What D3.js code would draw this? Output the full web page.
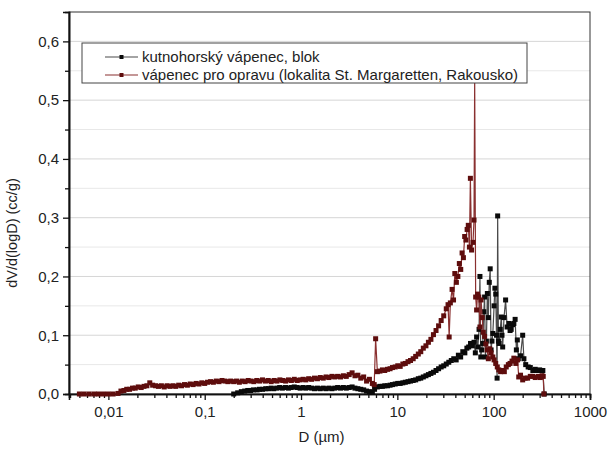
<!DOCTYPE html>
<html>
<head>
<meta charset="utf-8">
<script src="https://cdn.jsdelivr.net/npm/d3@7"></script>
<style>
  body { margin: 0; background: #fff; }
  text { font-family: "Liberation Sans", Arial, sans-serif; fill: #222; }
</style>
</head>
<body>
<div id="chart"></div>
<script>
// series 1: kutnohorsky vapenec, blok (black)
const dBlok = [0.20, 0.22, 0.24, 0.26, 0.28, 0.30, 0.32, 0.35, 0.37, 0.40, 0.43, 0.46, 0.49, 0.52, 0.56, 0.60, 0.64, 0.69, 0.74, 0.79,
  0.85, 0.91, 0.98, 1.05, 1.12, 1.2, 1.29, 1.38, 1.48, 1.58, 1.70, 1.82, 1.95, 2.09, 2.24, 2.40, 2.57, 2.75, 2.95, 3.16,
  3.39, 3.63, 3.89, 4.17, 4.47, 4.79, 5.13, 5.5, 5.8, 6.2, 6.6, 7.0, 7.4, 7.9, 8.4, 8.9, 9.5, 10.1, 10.7, 11.4,
  12.1, 12.9, 13.7, 14.6, 15.5, 16.5, 17.5, 18.6, 19.8, 21.0, 22.3, 23.7, 25.2, 26.8, 28.5, 30.3, 32.2, 34.2, 36.3, 38.5,
  40.8, 43.0, 45.4, 47.8, 50.2, 52.7, 55.0, 57.5, 60.0, 62.5, 64.5, 66.5, 68.5, 70.5, 72.0, 73.5, 75.0, 77.0, 79.0, 80.5,
  82.0, 84.0, 86.0, 88.0, 90.0, 92.0, 94.0, 96.0, 98.0, 101, 103, 105, 107, 108.5, 110, 112, 114, 117, 120, 122,
  124, 128, 133, 138, 144, 148, 152, 157, 162, 167, 172, 176, 180, 190, 200, 206, 215, 228, 240, 255,
  270, 285, 300, 315, 324, 335];
const vBlok = [0.000, 0.002, 0.004, 0.005, 0.006, 0.006, 0.007, 0.007, 0.008, 0.008, 0.009, 0.009, 0.010, 0.009, 0.010, 0.011, 0.010, 0.011, 0.010, 0.011,
  0.012, 0.011, 0.010, 0.011, 0.010, 0.011, 0.010, 0.009, 0.010, 0.009, 0.010, 0.009, 0.010, 0.009, 0.010, 0.011, 0.010, 0.011, 0.010, 0.011,
  0.012, 0.010, 0.009, 0.008, 0.007, 0.005, 0.004, 0.003, 0.008, 0.012, 0.013, 0.013, 0.014, 0.014, 0.015, 0.016, 0.017, 0.018, 0.018, 0.019,
  0.020, 0.021, 0.022, 0.023, 0.024, 0.026, 0.027, 0.029, 0.031, 0.033, 0.035, 0.037, 0.040, 0.043, 0.046, 0.048, 0.051, 0.054, 0.057, 0.060,
  0.058, 0.066, 0.063, 0.072, 0.070, 0.078, 0.080, 0.086, 0.082, 0.088, 0.070, 0.097, 0.080, 0.110, 0.200, 0.063, 0.075, 0.086, 0.140, 0.165,
  0.063, 0.090, 0.171, 0.130, 0.190, 0.213, 0.075, 0.090, 0.103, 0.150, 0.180, 0.170, 0.100, 0.027, 0.303, 0.090, 0.086, 0.110, 0.131, 0.100,
  0.080, 0.130, 0.160, 0.114, 0.120, 0.108, 0.110, 0.118, 0.120, 0.127, 0.075, 0.092, 0.060, 0.065, 0.100, 0.060, 0.050, 0.046, 0.045, 0.040,
  0.042, 0.040, 0.041, 0.040, 0.040, 0.000];

// series 2: vapenec pro opravu (dark red)
const dOprava = [0.0050, 0.0056, 0.0063, 0.0071, 0.0079, 0.0089, 0.0100, 0.0112, 0.0126, 0.0135, 0.0145, 0.0155, 0.0166, 0.0178, 0.019, 0.0204, 0.0219, 0.0234, 0.0251, 0.0269,
  0.0288, 0.0309, 0.0331, 0.0355, 0.038, 0.0407, 0.0437, 0.0468, 0.0501, 0.0537, 0.0575, 0.0617, 0.0661, 0.0708, 0.0759, 0.0813, 0.0871, 0.0933, 0.1, 0.107,
  0.115, 0.123, 0.132, 0.141, 0.151, 0.162, 0.174, 0.186, 0.2, 0.214, 0.229, 0.245, 0.263, 0.282, 0.302, 0.324, 0.347, 0.372, 0.398, 0.427,
  0.457, 0.49, 0.525, 0.562, 0.603, 0.646, 0.692, 0.741, 0.794, 0.851, 0.912, 0.977, 1.05, 1.12, 1.2, 1.29, 1.38, 1.48, 1.58, 1.70,
  1.82, 1.95, 2.09, 2.24, 2.40, 2.57, 2.75, 2.95, 3.16, 3.39, 3.63, 3.89, 4.17, 4.47, 4.79, 5.13, 5.5, 5.75, 5.95, 6.2,
  6.6, 7.0, 7.4, 7.9, 8.4, 8.9, 9.5, 10.1, 10.7, 11.4, 12.1, 12.9, 13.7, 14.6, 15.5, 16.5, 17.5, 18.6, 19.8, 21.0,
  22.3, 23.7, 25.2, 26.8, 28.5, 30.3, 32.2, 33.6, 34.5, 35.5, 37.0, 38.3, 39.5, 41.0, 42.5, 44.0, 45.5, 47.0, 48.5, 50.0,
  51.5, 53.0, 54.5, 56.0, 57.3, 59.0, 61.0, 62.5, 63.5, 65.0, 66.5, 68.0, 70.0, 72.0, 74.0, 76.0, 78.0, 80.5, 83.0, 85.5,
  88.0, 91.0, 94.0, 98.0, 101, 105, 109, 113, 118, 123, 129, 135, 142, 148, 155, 162, 170, 177, 182, 190,
  200, 212, 225, 240, 255, 270, 290, 305, 318, 327, 332];
const vOprava = [0, 0, 0, 0, 0, 0, 0, 0, 0.001, 0.005, 0.006, 0.008, 0.008, 0.010, 0.010, 0.012, 0.011, 0.013, 0.014, 0.019,
  0.015, 0.014, 0.013, 0.014, 0.012, 0.014, 0.013, 0.014, 0.013, 0.015, 0.014, 0.016, 0.015, 0.017, 0.016, 0.018, 0.017, 0.019, 0.018, 0.020,
  0.021, 0.020, 0.022, 0.021, 0.023, 0.022, 0.021, 0.022, 0.021, 0.022, 0.020, 0.022, 0.021, 0.023, 0.022, 0.021, 0.023, 0.022, 0.024, 0.022,
  0.023, 0.021, 0.023, 0.022, 0.024, 0.023, 0.022, 0.024, 0.023, 0.025, 0.023, 0.024, 0.025, 0.024, 0.026, 0.025, 0.027, 0.026, 0.028, 0.027,
  0.029, 0.028, 0.030, 0.029, 0.030, 0.029, 0.031, 0.030, 0.033, 0.036, 0.031, 0.032, 0.027, 0.029, 0.022, 0.025, 0.018, 0.016, 0.094, 0.038,
  0.039, 0.041, 0.040, 0.042, 0.043, 0.045, 0.046, 0.048, 0.047, 0.051, 0.052, 0.055, 0.057, 0.060, 0.064, 0.068, 0.072, 0.078, 0.082, 0.088,
  0.093, 0.101, 0.108, 0.116, 0.125, 0.133, 0.145, 0.152, 0.097, 0.155, 0.178, 0.160, 0.205, 0.190, 0.200, 0.222, 0.212, 0.240, 0.232, 0.268,
  0.262, 0.280, 0.287, 0.250, 0.367, 0.245, 0.258, 0.296, 0.535, 0.165, 0.143, 0.170, 0.165, 0.114, 0.160, 0.130, 0.105, 0.098, 0.085, 0.075,
  0.060, 0.077, 0.070, 0.063, 0.058, 0.052, 0.046, 0.041, 0.038, 0.040, 0.038, 0.046, 0.050, 0.052, 0.056, 0.061, 0.052, 0.058, 0.029, 0.032,
  0.024, 0.027, 0.027, 0.030, 0.030, 0.028, 0.030, 0.028, 0.031, 0.030, 0];

const yTicks = [0, 0.1, 0.2, 0.3, 0.4, 0.5, 0.6];
const xTicks = [0.01, 0.1, 1, 10, 100, 1000];
const seriesNames = ["kutnohorský vápenec, blok", "vápenec pro opravu (lokalita St. Margaretten, Rakousko)"];

const MARGIN = { LEFT: 69, RIGHT: 19, TOP: 12, BOTTOM: 55 };
const WIDTH = 609 - MARGIN.LEFT - MARGIN.RIGHT;
const HEIGHT = 449 - MARGIN.TOP - MARGIN.BOTTOM;

const svg = d3.select("#chart").append("svg")
  .attr("width", 609)
  .attr("height", 449);
const g = svg.append("g")
  .attr("transform", `translate(${MARGIN.LEFT}, ${MARGIN.TOP})`);

// scales
const x = d3.scaleLog().domain([0.0039, 1000]).range([0, WIDTH]);
const y = d3.scaleLinear().domain([0, 0.65]).range([HEIGHT, 0]);

// horizontal grid every 0.05
const gridVals = d3.range(1, 13).map(i => i * 0.05);
g.selectAll(".grid")
  .data(gridVals)
  .enter().append("line")
  .attr("x1", 0).attr("x2", WIDTH)
  .attr("y1", d => y(d)).attr("y2", d => y(d))
  .attr("stroke", (d, i) => i % 2 === 1 ? "#d6d6d6" : "#e8e8e8")
  .attr("stroke-width", 1);

// frame
g.append("rect")
  .attr("width", WIDTH).attr("height", HEIGHT)
  .attr("fill", "none").attr("stroke", "#333").attr("stroke-width", 1);

const fmt = d => String(d).replace(".", ",");

// y axis
g.append("g")
  .call(d3.axisLeft(y).tickValues(yTicks).tickSize(6).tickPadding(4).tickFormat(d => d3.format(".1f")(d).replace(".", ",")));
g.append("g")
  .call(d3.axisLeft(y).tickValues(d3.range(0, 6).map(i => i * 0.1 + 0.05)).tickSize(4).tickFormat(""));

// x axis
const xMinor = [];
[0.001, 0.01, 0.1, 1, 10, 100].forEach(dec => {
  for (let k = 2; k <= 9; k++) {
    const v = dec * k;
    if (v >= 0.0039 && v <= 1000) xMinor.push(v);
  }
});
g.append("g")
  .attr("transform", `translate(0, ${HEIGHT})`)
  .call(d3.axisBottom(x).tickValues(xTicks).tickSize(6).tickPadding(6).tickFormat(fmt));
g.append("g")
  .attr("transform", `translate(0, ${HEIGHT})`)
  .call(d3.axisBottom(x).tickValues(xMinor).tickSize(4).tickFormat(""));

svg.selectAll(".domain").attr("stroke", "#111").attr("stroke-width", 1.6);
svg.selectAll(".tick line").attr("stroke", "#111").attr("stroke-width", 1.3);
svg.selectAll(".tick text").attr("font-size", "15px").attr("fill", "#222")
  .style("font-family", "'Liberation Sans', Arial, sans-serif");

// axis titles
g.append("text")
  .attr("transform", "rotate(-90)")
  .attr("x", -(HEIGHT / 2 + 30))
  .attr("y", -52)
  .attr("text-anchor", "middle")
  .attr("font-size", "14.5px")
  .text("dV/d(logD) (cc/g)");
g.append("text")
  .attr("x", WIDTH / 2 - 8)
  .attr("y", HEIGHT + 48)
  .attr("text-anchor", "middle")
  .attr("font-size", "15px")
  .text("D (\u00b5m)");

// series
const series = [
  { name: seriesNames[0], d: dBlok, v: vBlok, line: "#4a4a4a", mark: "#0a0a0a" },
  { name: seriesNames[1], d: dOprava, v: vOprava, line: "#8a3030", mark: "#5e0d0d" }
];

const line = d3.line()
  .x(p => x(p[0]))
  .y(p => y(p[1]));

series.forEach(s => {
  const pts = s.d.map((dd, i) => [dd, s.v[i]]);
  g.append("path")
    .attr("d", line(pts))
    .attr("fill", "none")
    .attr("stroke", s.line)
    .attr("stroke-width", 1.2);
  g.selectAll(null)
    .data(pts)
    .enter().append("rect")
    .attr("x", p => x(p[0]) - 2.5)
    .attr("y", p => y(p[1]) - 2.5)
    .attr("width", 5).attr("height", 5)
    .attr("fill", s.mark);
});

// legend
const legend = svg.append("g").attr("transform", "translate(82, 43)");
legend.append("rect")
  .attr("width", 445).attr("height", 40)
  .attr("fill", "#fff").attr("stroke", "#444").attr("stroke-width", 1);
series.forEach((s, i) => {
  const ly = 14 + i * 18;
  legend.append("line")
    .attr("x1", 23).attr("x2", 56).attr("y1", ly).attr("y2", ly)
    .attr("stroke", s.line).attr("stroke-width", 1.2);
  legend.append("rect")
    .attr("x", 37.5).attr("y", ly - 2).attr("width", 4).attr("height", 4)
    .attr("fill", s.mark);
  legend.append("text")
    .attr("x", 60).attr("y", ly + 5)
    .attr("font-size", "15px")
    .text(s.name);
});
</script>
</body>
</html>
